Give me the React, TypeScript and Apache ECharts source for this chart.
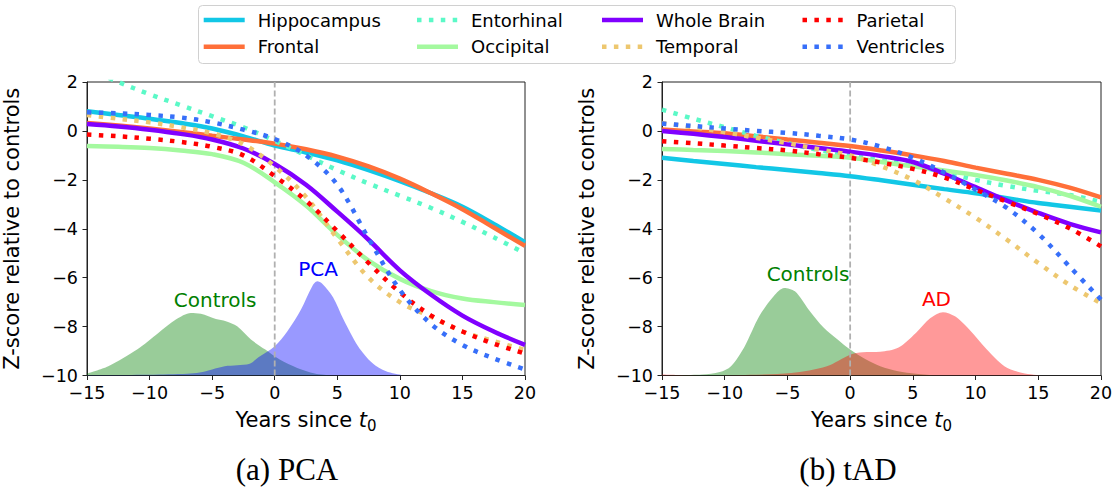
import React, { useEffect, useRef } from "react";
import * as echarts from "echarts";

// ---------- shared x grid for the trajectory curves ----------
const xs = [-15, -12.5, -10, -7.5, -5, -2.5, 0, 2.5, 5, 7.5, 10, 12.5, 15, 17.5, 20];

// ---------- legend / series meta ----------
const regionNames = ["Hippocampus", "Frontal", "Entorhinal", "Occipital", "Whole Brain", "Temporal", "Parietal", "Ventricles"];
const regionColors = ["#12c7e6", "#ff6f39", "#5bf9c7", "#a4f99f", "#8000ff", "#edc76f", "#ff0000", "#376ff9"];
const regionDotted = [false, false, true, false, false, true, true, true];

// ---------- (a) PCA trajectories ----------
const pcaHippocampus = [0.8, 0.65, 0.5, 0.32, 0.1, -0.22, -0.6, -0.88, -1.2, -1.6, -2.05, -2.55, -3.1, -3.8, -4.55];
const pcaFrontal = [0.32, 0.22, 0.1, -0.04, -0.2, -0.35, -0.52, -0.75, -1.05, -1.45, -1.95, -2.55, -3.2, -3.95, -4.7];
const pcaEntorhinal = [2.55, 2.0, 1.5, 1.05, 0.6, 0.15, -0.4, -1.0, -1.6, -2.15, -2.65, -3.15, -3.72, -4.35, -5.0];
const pcaOccipital = [-0.62, -0.65, -0.7, -0.8, -0.95, -1.3, -2.1, -3.05, -4.25, -5.3, -6.05, -6.55, -6.85, -7.0, -7.12];
const pcaWholeBrain = [0.28, 0.18, 0.05, -0.12, -0.35, -0.72, -1.35, -2.2, -3.3, -4.45, -5.7, -6.7, -7.55, -8.2, -8.75];
const pcaTemporal = [0.65, 0.5, 0.35, 0.15, -0.1, -0.55, -1.45, -2.7, -4.4, -6.0, -7.0, -7.6, -8.2, -8.6, -8.95];
const pcaParietal = [-0.15, -0.22, -0.32, -0.45, -0.65, -1.0, -1.85, -2.85, -4.1, -5.4, -6.6, -7.55, -8.2, -8.7, -9.1];
const pcaVentricles = [0.76, 0.72, 0.65, 0.55, 0.35, 0.05, -0.33, -1.0, -2.2, -4.4, -6.5, -7.9, -8.75, -9.3, -9.75];

// ---------- (b) tAD trajectories ----------
const tadHippocampus = [-1.1, -1.23, -1.35, -1.48, -1.6, -1.72, -1.85, -2.02, -2.2, -2.38, -2.55, -2.75, -2.95, -3.1, -3.25];
const tadFrontal = [0.06, -0.02, -0.1, -0.22, -0.35, -0.48, -0.62, -0.8, -1.0, -1.23, -1.5, -1.75, -2.0, -2.32, -2.72];
const tadEntorhinal = [0.87, 0.5, 0.15, -0.2, -0.5, -0.78, -1.0, -1.2, -1.4, -1.7, -2.0, -2.25, -2.45, -2.62, -2.9];
const tadOccipital = [-0.74, -0.78, -0.82, -0.88, -0.95, -1.02, -1.1, -1.27, -1.45, -1.62, -1.8, -2.03, -2.3, -2.65, -3.1];
const tadWholeBrain = [0.0, -0.12, -0.25, -0.4, -0.55, -0.7, -0.85, -1.03, -1.27, -1.75, -2.3, -2.85, -3.35, -3.8, -4.15];
const tadTemporal = [0.32, 0.15, -0.05, -0.28, -0.5, -0.75, -1.0, -1.45, -2.0, -2.75, -3.55, -4.45, -5.4, -6.3, -7.05];
const tadParietal = [-0.42, -0.5, -0.6, -0.7, -0.8, -0.95, -1.1, -1.3, -1.55, -1.9, -2.4, -2.9, -3.4, -3.98, -4.72];
const tadVentricles = [0.3, 0.2, 0.1, 0.0, -0.08, -0.2, -0.35, -0.65, -1.1, -1.7, -2.4, -3.15, -4.2, -5.55, -6.9];

// ---------- densities ----------
const pcaControlsX = [-15, -13.3, -11, -9.3, -7.9, -6.7, -5.9, -4.7, -3.9, -3, -1.9, -0.75, 0.4, 1.8, 3.2, 4.4];
const pcaControlsY = [-9.92, -9.62, -8.94, -8.26, -7.71, -7.44, -7.48, -7.69, -7.78, -7.99, -8.53, -8.94, -9.35, -9.69, -9.92, -10];
const pcaGroupX = [-15, -10, -7, -6, -5, -4, -3, -2, -1.3, 0, 1, 2.1, 3.0, 3.4, 3.8, 4.66, 5.5, 6.66, 7.8, 8.9, 10.1];
const pcaGroupY = [-9.98, -9.97, -9.93, -9.88, -9.75, -9.62, -9.58, -9.52, -9.25, -8.8, -8.2, -7.3, -6.35, -6.15, -6.25, -6.8, -7.71, -8.8, -9.49, -9.83, -9.98];
const tadControlsX = [-15, -11.8, -10.4, -9.5, -8.4, -7.25, -6.1, -5.26, -4.4, -3.3, -2.1, -1, 0, 1.27, 2.4, 3.82, 5.24, 6.66];
const tadControlsY = [-10, -9.96, -9.86, -9.62, -8.8, -7.58, -6.76, -6.42, -6.56, -7.31, -8.05, -8.53, -8.94, -9.35, -9.62, -9.83, -9.93, -10];
const tadGroupX = [-15, -13, -11, -8, -4.7, -1.86, 0, 1, 2.4, 3.82, 5.24, 6.4, 7.4, 8.36, 9.5, 10.9, 12.3, 13.75, 15.2];
const tadGroupY = [-9.96, -9.99, -10, -9.97, -9.9, -9.62, -9.15, -9.05, -9.03, -8.87, -8.26, -7.65, -7.41, -7.58, -8.12, -8.94, -9.62, -9.9, -10];

// ---------- annotations ----------
const pcaLabels = [
  { name: "Controls", x: -4.76, y: -6.9, color: "#008000" },
  { name: "PCA", x: 3.47, y: -5.64, color: "#0000ff" },
];
const tadLabels = [
  { name: "Controls", x: -3.36, y: -5.87, color: "#008000" },
  { name: "AD", x: 6.88, y: -6.87, color: "#ff0000" },
];

// ---------- axes ----------
const xMin = -15, xMax = 20, xStep = 5;
const yMin = -10, yMax = 2, yStep = 2;
const onsetLine = [[0, yMin], [0, yMax]];
const captions = ["(a) PCA", "(b) tAD"];

const FONT = "DejaVu Sans";
const minus = (v: number) => (v < 0 ? "\u2212" + Math.abs(v) : String(v));

const pcaCurves = [pcaHippocampus, pcaFrontal, pcaEntorhinal, pcaOccipital, pcaWholeBrain, pcaTemporal, pcaParietal, pcaVentricles];
const tadCurves = [tadHippocampus, tadFrontal, tadEntorhinal, tadOccipital, tadWholeBrain, tadTemporal, tadParietal, tadVentricles];

function buildOption() {
  const grids = [
    { left: 85, top: 82, width: 440, height: 293.5 },
    { left: 662, top: 82, width: 439, height: 293.5 },
  ].map((g) => ({ ...g, show: true, borderColor: "#222", borderWidth: 1, backgroundColor: "transparent" }));

  const xAxes = [0, 1].map((i) => ({
    type: "value",
    gridIndex: i,
    min: xMin,
    max: xMax,
    interval: xStep,
    name: "Years since {t|t}{s|0}",
    nameLocation: "middle",
    nameGap: 31,
    nameTextStyle: {
      fontSize: 21,
      fontFamily: FONT,
      color: "#000",
      rich: {
        t: { fontSize: 21, fontFamily: FONT, fontStyle: "italic", color: "#000" },
        s: { fontSize: 15, fontFamily: FONT, color: "#000", padding: [12, 0, 0, 0] },
      },
    },
    axisLine: { onZero: false, lineStyle: { color: "#222", width: 1 } },
    axisTick: { length: 4.5, lineStyle: { color: "#222", width: 1 } },
    axisLabel: { fontSize: 17.5, fontFamily: FONT, color: "#000", margin: 8, formatter: minus },
    splitLine: { show: false },
  }));

  const yAxes = [0, 1].map((i) => ({
    type: "value",
    gridIndex: i,
    min: yMin,
    max: yMax,
    interval: yStep,
    name: "Z-score relative to controls",
    nameLocation: "middle",
    nameGap: 65,
    nameTextStyle: { fontSize: 21, fontFamily: FONT, color: "#000" },
    axisLine: { onZero: false, lineStyle: { color: "#222", width: 1 } },
    axisTick: { length: 4.5, lineStyle: { color: "#222", width: 1 } },
    axisLabel: { fontSize: 17.5, fontFamily: FONT, color: "#000", margin: 9, formatter: minus },
    splitLine: { show: false },
  }));

  const series: any[] = [];
  const density = (xArr: number[], yArr: number[], color: string, g: number, z: number) => ({
    type: "line",
    xAxisIndex: g,
    yAxisIndex: g,
    data: xArr.map((x, i) => [x, yArr[i]]),
    smooth: 0.3,
    symbol: "none",
    silent: true,
    lineStyle: { width: 0, color },
    itemStyle: { color },
    areaStyle: { color, opacity: 0.4, origin: "start" },
    z,
  });
  series.push(density(pcaControlsX, pcaControlsY, "#008000", 0, 1));
  series.push(density(pcaGroupX, pcaGroupY, "#0000ff", 0, 1));
  series.push(density(tadControlsX, tadControlsY, "#008000", 1, 1));
  series.push(density(tadGroupX, tadGroupY, "#ff0000", 1, 1));

  [0, 1].forEach((g) => {
    series.push({
      type: "line",
      xAxisIndex: g,
      yAxisIndex: g,
      data: onsetLine,
      symbol: "none",
      silent: true,
      itemStyle: { color: "#b0b0b0" },
      lineStyle: { color: "#b0b0b0", width: 1.8, type: [6, 3], opacity: 1 },
      z: 2,
    });
  });

  [pcaCurves, tadCurves].forEach((curves, g) => {
    curves.forEach((vals, k) => {
      series.push({
        type: "line",
        name: regionNames[k],
        xAxisIndex: g,
        yAxisIndex: g,
        data: xs.map((x, i) => [x, vals[i]]),
        smooth: 0.35,
        symbol: "none",
        silent: true,
        clip: true,
        itemStyle: { color: regionColors[k] },
        lineStyle: {
          color: regionColors[k],
          width: 4.5,
          type: regionDotted[k] ? [4.5, 7.4] : "solid",
          cap: "butt",
        },
        z: 3 + k,
      });
    });
  });

  [pcaLabels, tadLabels].forEach((labels, g) => {
    labels.forEach((l) => {
      series.push({
        type: "scatter",
        xAxisIndex: g,
        yAxisIndex: g,
        data: [{ name: l.name, value: [l.x, l.y] }],
        symbolSize: 1,
        itemStyle: { color: l.color, opacity: 0 },
        silent: true,
        label: {
          show: true,
          position: "inside",
          formatter: "{b}",
          fontSize: 20,
          fontFamily: FONT,
          color: l.color,
          opacity: 1,
          textBorderWidth: 0,
          textBorderColor: "transparent",
        },
        z: 20,
      });
    });
  });

  // legend drawn with graphic elements, built from the meta arrays
  const legendTextX = [257.7, 471, 656, 856.5];
  const legendRowY = [20, 46.7];
  const graphic: any[] = [
    {
      type: "rect",
      shape: { x: 198.5, y: 5.5, width: 757, height: 58, r: 4 },
      style: { fill: "#fff", stroke: "#d0d0d0", lineWidth: 1 },
      z: 50,
    },
  ];
  regionNames.forEach((name, k) => {
    const col = Math.floor(k / 2);
    const row = k % 2;
    const tx = legendTextX[col];
    const ty = legendRowY[row];
    graphic.push({
      type: "line",
      shape: { x1: tx - 54, y1: ty, x2: tx - 13, y2: ty },
      style: {
        stroke: regionColors[k],
        lineWidth: 4.5,
        lineDash: regionDotted[k] ? [4.5, 7.4] : null,
        lineCap: "butt",
      },
      z: 51,
    });
    graphic.push({
      type: "text",
      x: tx,
      y: ty,
      style: { text: name, fontSize: 18, fontFamily: FONT, fill: "#000", verticalAlign: "middle", align: "left" },
      z: 51,
    });
  });
  const captionX = [287, 848];
  captions.forEach((c, i) => {
    graphic.push({
      type: "text",
      x: captionX[i],
      y: 469,
      style: { text: c, fontSize: 31, fontFamily: "Liberation Serif", fill: "#000", align: "center", verticalAlign: "middle" },
      z: 51,
    });
  });

  return {
    animation: false,
    backgroundColor: "#fff",
    grid: grids,
    xAxis: xAxes,
    yAxis: yAxes,
    series,
    graphic,
  };
}

export default function App() {
  const ref = useRef<HTMLDivElement>(null);
  useEffect(() => {
    if (!ref.current) return;
    const chart = echarts.init(ref.current, undefined, { renderer: "svg" });
    chart.setOption(buildOption() as any);
    return () => chart.dispose();
  }, []);
  return (
    <div
      ref={ref}
      style={{ position: "fixed", left: 0, top: 0, width: 1118, height: 490, background: "#fff" }}
    />
  );
}
